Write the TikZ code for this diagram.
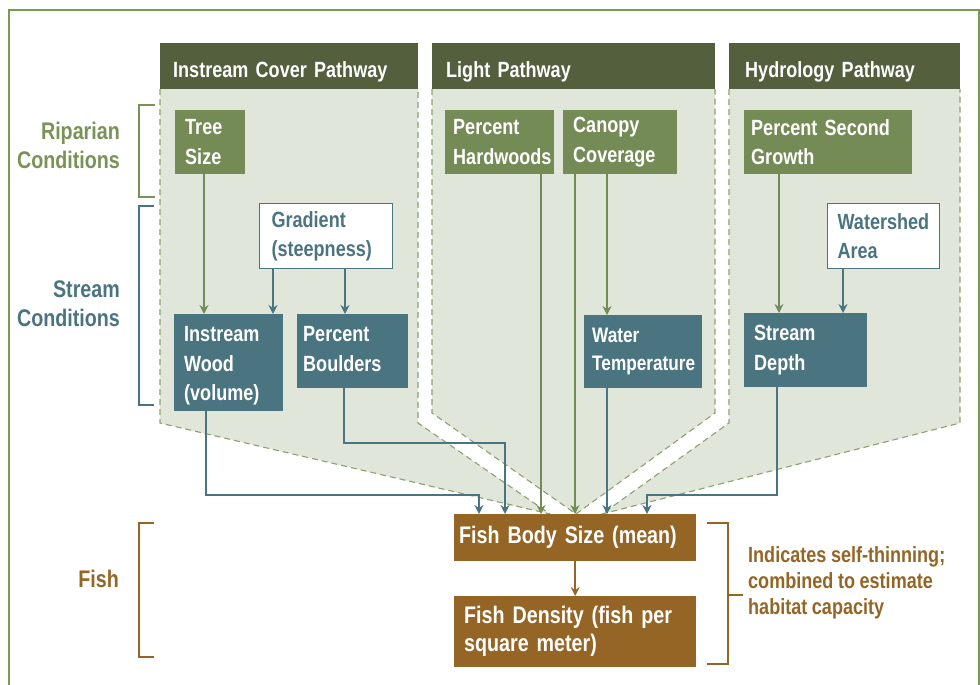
\documentclass[tikz,border=0pt]{standalone}
\usepackage{fontspec}
\setmainfont{Liberation Sans}[FakeStretch=0.82]
\usetikzlibrary{arrows.meta}

\definecolor{frameG}{HTML}{7A9A4C}
\definecolor{headG}{HTML}{535F3D}
\definecolor{panelF}{HTML}{E0E6DA}
\definecolor{dashG}{HTML}{8FA06F}
\definecolor{leafG}{HTML}{758B56}
\definecolor{ripG}{HTML}{7A9255}
\definecolor{streamT}{HTML}{4B7481}
\definecolor{fishB}{HTML}{956526}

% bold narrow face at a given size and leading, with tight word spaces
\newcommand\narrowtype[2]{\bfseries\fontsize{#1}{#2}\selectfont\spaceskip=0.21em plus 0.05em minus 0.05em\relax}

\tikzset{
  pad/.style={execute at begin node={\leftskip=#1pt\relax}},
  bx/.style={inner xsep=0pt, inner ysep=0pt, align=left, anchor=north west,
    font=\narrowtype{22}{29.5}},
  hd/.style={bx, fill=headG, text=white, minimum height=46, text height=22pt, text depth=0pt},
  gbox/.style={bx, fill=leafG, text=white},
  tbox/.style={bx, fill=streamT, text=white},
  wbox/.style={bx, fill=white, draw=streamT, line width=1.2pt, text=streamT},
  fbox/.style={bx, fill=fishB, text=white, font=\narrowtype{24}{28}},
  panel/.style={fill=panelF},
  panelrim/.style={draw=dashG, line width=1.1pt, dash pattern=on 6pt off 4pt},
  side/.style={anchor=east, align=right, inner sep=0pt, font=\narrowtype{24}{29}},
  brk/.style={line width=1.5pt},
  tip/.style={-{Stealth[length=9pt,width=9pt,inset=3pt]}, line width=1.6pt},
  garr/.style={tip, draw=leafG},
  tarr/.style={tip, draw=streamT},
  barr/.style={tip, draw=fishB},
}

\begin{document}
\begin{tikzpicture}[x=1pt, y=-1pt]
\useasboundingbox (0,0) rectangle (980,685);

% outer frame
\draw[frameG, line width=1.5pt] (9,685) -- (9,10) -- (979,10) -- (979,685);

% pathway panels funnelling into the fish box
\path[panel] (160,89) -- (418,89) -- (418,423) -- (550,514) -- (160,423) -- cycle;
\draw[panelrim] (160,89) -- (160,423) -- (550,514) -- (418,423) -- (418,89);
\path[panel] (432,89) -- (715,89) -- (715,413) -- (576,514) -- (432,413) -- cycle;
\draw[panelrim] (432,89) -- (432,413) -- (576,514) -- (715,413) -- (715,89);
\path[panel] (729,89) -- (960,89) -- (960,423) -- (602,514) -- (729,423) -- cycle;
\draw[panelrim] (729,89) -- (729,423) -- (602,514) -- (960,423) -- (960,89);

% panel headers
\node[hd, minimum width=258, text width=258, pad=13] (h1) at (160,43) {Instream Cover Pathway};
\node[hd, minimum width=283, text width=283, pad=14] (h2) at (432,43) {Light Pathway};
\node[hd, minimum width=231, text width=231, pad=16] (h3) at (729,43) {Hydrology Pathway};

% row labels and brackets
\node[side, text=ripG] (rip) at (120,145) {Riparian\\Conditions};
\node[side, text=streamT] (strm) at (120,304) {Stream\\Conditions};
\node[side, text=fishB] (fishl) at (119,579) {Fish};
\draw[brk, ripG] (155,105) -- (139,105) -- (139,197) -- (155,197);
\draw[brk, streamT] (154,206) -- (139,206) -- (139,405) -- (154,405);
\draw[brk, fishB] (154,523) -- (139,523) -- (139,657) -- (154,657);

% riparian condition boxes
\node[gbox, minimum width=70, minimum height=64, text width=70, pad=10] (tree) at (175,110) {Tree\\Size};
\node[gbox, minimum width=109, minimum height=64, text width=109, pad=8] (hard) at (445,110) {Percent\\Hardwoods};
\node[gbox, minimum width=114, minimum height=64, text width=114, pad=10] (canopy) at (563,110) {Canopy\\Coverage};
\node[gbox, minimum width=168, minimum height=64, text width=168, pad=7] (second) at (744,110) {Percent Second\\Growth};

% stream condition boxes
\node[wbox, minimum width=133, minimum height=65, text width=133, pad=12] (grad) at (259,203) {Gradient\\(steepness)};
\node[wbox, minimum width=112, minimum height=65, text width=112, pad=10] (shed) at (827,203) {Watershed\\Area};
\node[tbox, minimum width=109, minimum height=97, text width=109, pad=10] (wood) at (174,314) {\rule{0pt}{22pt}Instream\\Wood\\(volume)};
\node[tbox, minimum width=111, minimum height=74, text width=111, pad=6] (bould) at (297,314) {Percent\\Boulders\rule[-5pt]{0pt}{5pt}};
\node[tbox, minimum width=118, minimum height=73, text width=118, pad=8,
      font=\narrowtype{21}{28.5}] (temp) at (584,315) {Water\\Temperature};
\node[tbox, minimum width=123, minimum height=74, text width=123, pad=10] (depth) at (744,313) {Stream\\Depth};

% fish boxes
\node[fbox, minimum width=242, minimum height=47, text width=242, pad=5] (body) at (454,514) {Fish Body Size (mean)};
\node[fbox, minimum width=242, minimum height=71, text width=242, pad=10] (dens) at (454,596) {Fish Density (fish per\\square meter)};

% note bracket
\draw[brk, fishB] (707,523) -- (728,523) -- (728,664) -- (707,664);
\draw[brk, fishB] (728,595) -- (743,595);
\node[anchor=west, align=left, text=fishB, inner sep=0pt,
      font=\narrowtype{22}{26}] (note) at (748,583)
  {Indicates self-thinning;\\combined to estimate\\habitat capacity};

% connector columns
\coordinate (xa) at (204,0);
\coordinate (xb) at (273,0);
\coordinate (xc) at (345,0);
\coordinate (xd) at (541,0);
\coordinate (xe) at (575,0);
\coordinate (xf) at (607,0);
\coordinate (xg) at (779,0);
\coordinate (xh) at (843,0);
\coordinate (wA) at (206,0);
\coordinate (wB) at (479,495);
\coordinate (bA) at (344,0);
\coordinate (bB) at (505,443);
\coordinate (dA) at (777,0);
\coordinate (dB) at (647,495);

% connectors
\draw[garr] (tree.south -| xa) -- (wood.north -| xa);
\draw[tarr] (grad.south -| xb) -- (wood.north -| xb);
\draw[tarr] (grad.south -| xc) -- (bould.north -| xc);
\draw[garr] (hard.south -| xd) -- (body.north -| xd);
\draw[garr] (canopy.south -| xe) -- (body.north -| xe);
\draw[garr] (canopy.south -| xf) -- (temp.north -| xf);
\draw[tarr] (temp.south -| xf) -- (body.north -| xf);
\draw[garr] (second.south -| xg) -- (depth.north -| xg);
\draw[tarr] (shed.south -| xh) -- (depth.north -| xh);
\draw[tarr] (wood.south -| wA) |- (wB) -- (body.north -| wB);
\draw[tarr] (bould.south -| bA) |- (bB) -- (body.north -| bB);
\draw[tarr] (depth.south -| dA) |- (dB) -- (body.north -| dB);
\draw[barr] (body.south) -- (dens.north);
\end{tikzpicture}
\end{document}
